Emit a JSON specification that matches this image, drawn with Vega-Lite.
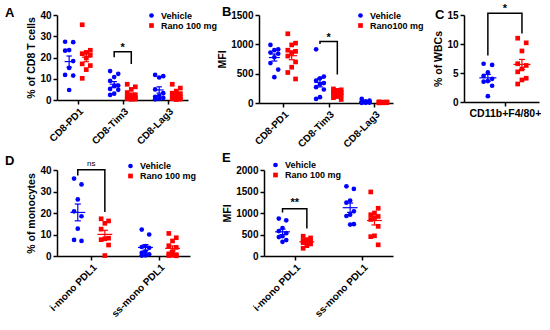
{
"$schema":"https://vega.github.io/schema/vega-lite/v6.json",
"background":"white",
"padding":{"left":5,"top":3,"right":0,"bottom":0},
"spacing":1,
"resolve":{"scale":{"color":"independent","shape":"independent"},"legend":{"color":"independent","shape":"independent"}},
"config":{
 "view":{"stroke":null},
 "font":"Liberation Sans",
 "axis":{"domainColor":"black","domainWidth":1.5,"tickColor":"black","tickWidth":1.5,"tickSize":4,"labelColor":"black","labelFontSize":10,"labelFontWeight":"bold","titleColor":"black","titleFontSize":10.5,"titleFontWeight":"bold","grid":false,"labelPadding":2,"titlePadding":3,"labelFlush":false,"labelOverlap":false},
 "legend":{"labelFontSize":9,"labelFontWeight":"bold","labelColor":"black","symbolSize":22,"rowPadding":0,"labelOffset":5,"padding":0,"title":null,"symbolStrokeWidth":0},
 "title":{"anchor":"start","frame":"group","offset":0,"baseline":"alphabetic","fontSize":13,"fontWeight":"bold","color":"black","font":"Liberation Sans"}
},
"datasets":{
 "A":[
  {"c":"CD8-PD1","g":"Vehicle","v":27.4},{"c":"CD8-PD1","g":"Vehicle","v":27.2},{"c":"CD8-PD1","g":"Vehicle","v":23.5},{"c":"CD8-PD1","g":"Vehicle","v":23.2},{"c":"CD8-PD1","g":"Vehicle","v":18.3},{"c":"CD8-PD1","g":"Vehicle","v":15.1},{"c":"CD8-PD1","g":"Vehicle","v":11.8},{"c":"CD8-PD1","g":"Vehicle","v":11.5},{"c":"CD8-PD1","g":"Vehicle","v":4.7},
  {"c":"CD8-PD1","g":"Rano","v":35.4},{"c":"CD8-PD1","g":"Rano","v":23.4},{"c":"CD8-PD1","g":"Rano","v":22.4},{"c":"CD8-PD1","g":"Rano","v":21.8},{"c":"CD8-PD1","g":"Rano","v":21.1},{"c":"CD8-PD1","g":"Rano","v":19.8},{"c":"CD8-PD1","g":"Rano","v":17.0},{"c":"CD8-PD1","g":"Rano","v":16.2},{"c":"CD8-PD1","g":"Rano","v":14.3},{"c":"CD8-PD1","g":"Rano","v":10.2},
  {"c":"CD8-Tim3","g":"Vehicle","v":13.6},{"c":"CD8-Tim3","g":"Vehicle","v":12.3},{"c":"CD8-Tim3","g":"Vehicle","v":10.8},{"c":"CD8-Tim3","g":"Vehicle","v":9.0},{"c":"CD8-Tim3","g":"Vehicle","v":6.8},{"c":"CD8-Tim3","g":"Vehicle","v":6.5},{"c":"CD8-Tim3","g":"Vehicle","v":5.2},{"c":"CD8-Tim3","g":"Vehicle","v":4.8},{"c":"CD8-Tim3","g":"Vehicle","v":3.0},{"c":"CD8-Tim3","g":"Vehicle","v":2.4},
  {"c":"CD8-Tim3","g":"Rano","v":7.4},{"c":"CD8-Tim3","g":"Rano","v":6.2},{"c":"CD8-Tim3","g":"Rano","v":5.0},{"c":"CD8-Tim3","g":"Rano","v":3.5},{"c":"CD8-Tim3","g":"Rano","v":2.5},{"c":"CD8-Tim3","g":"Rano","v":2.0},{"c":"CD8-Tim3","g":"Rano","v":1.5},{"c":"CD8-Tim3","g":"Rano","v":1.0},{"c":"CD8-Tim3","g":"Rano","v":0.8},{"c":"CD8-Tim3","g":"Rano","v":0.6},{"c":"CD8-Tim3","g":"Rano","v":0.4},{"c":"CD8-Tim3","g":"Rano","v":0.3},
  {"c":"CD8-Lag3","g":"Vehicle","v":11.8},{"c":"CD8-Lag3","g":"Vehicle","v":11.2},{"c":"CD8-Lag3","g":"Vehicle","v":10.6},{"c":"CD8-Lag3","g":"Vehicle","v":5.0},{"c":"CD8-Lag3","g":"Vehicle","v":3.2},{"c":"CD8-Lag3","g":"Vehicle","v":2.0},{"c":"CD8-Lag3","g":"Vehicle","v":1.5},{"c":"CD8-Lag3","g":"Vehicle","v":1.0},{"c":"CD8-Lag3","g":"Vehicle","v":0.6},{"c":"CD8-Lag3","g":"Vehicle","v":0.3},
  {"c":"CD8-Lag3","g":"Rano","v":7.4},{"c":"CD8-Lag3","g":"Rano","v":5.6},{"c":"CD8-Lag3","g":"Rano","v":4.2},{"c":"CD8-Lag3","g":"Rano","v":3.2},{"c":"CD8-Lag3","g":"Rano","v":3.0},{"c":"CD8-Lag3","g":"Rano","v":2.2},{"c":"CD8-Lag3","g":"Rano","v":1.8},{"c":"CD8-Lag3","g":"Rano","v":1.3},{"c":"CD8-Lag3","g":"Rano","v":0.9},{"c":"CD8-Lag3","g":"Rano","v":0.6},{"c":"CD8-Lag3","g":"Rano","v":0.4},{"c":"CD8-Lag3","g":"Rano","v":0.2}
 ],
 "B":[
  {"c":"CD8-PD1","g":"Vehicle","v":990},{"c":"CD8-PD1","g":"Vehicle","v":915},{"c":"CD8-PD1","g":"Vehicle","v":900},{"c":"CD8-PD1","g":"Vehicle","v":860},{"c":"CD8-PD1","g":"Vehicle","v":840},{"c":"CD8-PD1","g":"Vehicle","v":780},{"c":"CD8-PD1","g":"Vehicle","v":680},{"c":"CD8-PD1","g":"Vehicle","v":570},{"c":"CD8-PD1","g":"Vehicle","v":440},
  {"c":"CD8-PD1","g":"Rano","v":1180},{"c":"CD8-PD1","g":"Rano","v":1020},{"c":"CD8-PD1","g":"Rano","v":990},{"c":"CD8-PD1","g":"Rano","v":900},{"c":"CD8-PD1","g":"Rano","v":880},{"c":"CD8-PD1","g":"Rano","v":860},{"c":"CD8-PD1","g":"Rano","v":800},{"c":"CD8-PD1","g":"Rano","v":700},{"c":"CD8-PD1","g":"Rano","v":610},{"c":"CD8-PD1","g":"Rano","v":520},{"c":"CD8-PD1","g":"Rano","v":410},
  {"c":"CD8-Tim3","g":"Vehicle","v":915},{"c":"CD8-Tim3","g":"Vehicle","v":450},{"c":"CD8-Tim3","g":"Vehicle","v":420},{"c":"CD8-Tim3","g":"Vehicle","v":380},{"c":"CD8-Tim3","g":"Vehicle","v":340},{"c":"CD8-Tim3","g":"Vehicle","v":320},{"c":"CD8-Tim3","g":"Vehicle","v":270},{"c":"CD8-Tim3","g":"Vehicle","v":230},{"c":"CD8-Tim3","g":"Vehicle","v":100},{"c":"CD8-Tim3","g":"Vehicle","v":70},
  {"c":"CD8-Tim3","g":"Rano","v":240},{"c":"CD8-Tim3","g":"Rano","v":225},{"c":"CD8-Tim3","g":"Rano","v":215},{"c":"CD8-Tim3","g":"Rano","v":190},{"c":"CD8-Tim3","g":"Rano","v":175},{"c":"CD8-Tim3","g":"Rano","v":160},{"c":"CD8-Tim3","g":"Rano","v":150},{"c":"CD8-Tim3","g":"Rano","v":130},{"c":"CD8-Tim3","g":"Rano","v":110},{"c":"CD8-Tim3","g":"Rano","v":90},{"c":"CD8-Tim3","g":"Rano","v":60},
  {"c":"CD8-Lag3","g":"Vehicle","v":70},{"c":"CD8-Lag3","g":"Vehicle","v":40},{"c":"CD8-Lag3","g":"Vehicle","v":30},{"c":"CD8-Lag3","g":"Vehicle","v":25},{"c":"CD8-Lag3","g":"Vehicle","v":20},{"c":"CD8-Lag3","g":"Vehicle","v":15},{"c":"CD8-Lag3","g":"Vehicle","v":10},{"c":"CD8-Lag3","g":"Vehicle","v":8},{"c":"CD8-Lag3","g":"Vehicle","v":5},{"c":"CD8-Lag3","g":"Vehicle","v":3},
  {"c":"CD8-Lag3","g":"Rano","v":20},{"c":"CD8-Lag3","g":"Rano","v":18},{"c":"CD8-Lag3","g":"Rano","v":15},{"c":"CD8-Lag3","g":"Rano","v":12},{"c":"CD8-Lag3","g":"Rano","v":10},{"c":"CD8-Lag3","g":"Rano","v":8},{"c":"CD8-Lag3","g":"Rano","v":6},{"c":"CD8-Lag3","g":"Rano","v":5},{"c":"CD8-Lag3","g":"Rano","v":3},{"c":"CD8-Lag3","g":"Rano","v":2}
 ],
 "C":[
  {"c":"CD11b+F4/80+","g":"Vehicle","v":6.6},{"c":"CD11b+F4/80+","g":"Vehicle","v":6.4},{"c":"CD11b+F4/80+","g":"Vehicle","v":5.1},{"c":"CD11b+F4/80+","g":"Vehicle","v":4.5},{"c":"CD11b+F4/80+","g":"Vehicle","v":4.0},{"c":"CD11b+F4/80+","g":"Vehicle","v":3.6},{"c":"CD11b+F4/80+","g":"Vehicle","v":3.5},{"c":"CD11b+F4/80+","g":"Vehicle","v":2.8},{"c":"CD11b+F4/80+","g":"Vehicle","v":1.0},
  {"c":"CD11b+F4/80+","g":"Rano","v":11.0},{"c":"CD11b+F4/80+","g":"Rano","v":10.2},{"c":"CD11b+F4/80+","g":"Rano","v":8.8},{"c":"CD11b+F4/80+","g":"Rano","v":6.6},{"c":"CD11b+F4/80+","g":"Rano","v":6.3},{"c":"CD11b+F4/80+","g":"Rano","v":5.7},{"c":"CD11b+F4/80+","g":"Rano","v":5.2},{"c":"CD11b+F4/80+","g":"Rano","v":4.1},{"c":"CD11b+F4/80+","g":"Rano","v":3.8},{"c":"CD11b+F4/80+","g":"Rano","v":3.1}
 ],
 "D":[
  {"c":"i-mono PDL1","g":"Vehicle","v":36.0},{"c":"i-mono PDL1","g":"Vehicle","v":33.3},{"c":"i-mono PDL1","g":"Vehicle","v":26.3},{"c":"i-mono PDL1","g":"Vehicle","v":20.8},{"c":"i-mono PDL1","g":"Vehicle","v":18.5},{"c":"i-mono PDL1","g":"Vehicle","v":12.7},{"c":"i-mono PDL1","g":"Vehicle","v":7.5},{"c":"i-mono PDL1","g":"Vehicle","v":7.0},
  {"c":"i-mono PDL1","g":"Rano","v":17.3},{"c":"i-mono PDL1","g":"Rano","v":16.3},{"c":"i-mono PDL1","g":"Rano","v":15.2},{"c":"i-mono PDL1","g":"Rano","v":12.5},{"c":"i-mono PDL1","g":"Rano","v":8.3},{"c":"i-mono PDL1","g":"Rano","v":8.0},{"c":"i-mono PDL1","g":"Rano","v":7.6},{"c":"i-mono PDL1","g":"Rano","v":5.1},{"c":"i-mono PDL1","g":"Rano","v":0.2},
  {"c":"ss-mono PDL1","g":"Vehicle","v":12.3},{"c":"ss-mono PDL1","g":"Vehicle","v":10.0},{"c":"ss-mono PDL1","g":"Vehicle","v":4.6},{"c":"ss-mono PDL1","g":"Vehicle","v":4.2},{"c":"ss-mono PDL1","g":"Vehicle","v":3.8},{"c":"ss-mono PDL1","g":"Vehicle","v":2.0},{"c":"ss-mono PDL1","g":"Vehicle","v":1.5},{"c":"ss-mono PDL1","g":"Vehicle","v":0.8},{"c":"ss-mono PDL1","g":"Vehicle","v":0.3},{"c":"ss-mono PDL1","g":"Vehicle","v":0.2},
  {"c":"ss-mono PDL1","g":"Rano","v":10.5},{"c":"ss-mono PDL1","g":"Rano","v":8.5},{"c":"ss-mono PDL1","g":"Rano","v":7.0},{"c":"ss-mono PDL1","g":"Rano","v":4.8},{"c":"ss-mono PDL1","g":"Rano","v":4.0},{"c":"ss-mono PDL1","g":"Rano","v":2.0},{"c":"ss-mono PDL1","g":"Rano","v":1.0},{"c":"ss-mono PDL1","g":"Rano","v":0.6},{"c":"ss-mono PDL1","g":"Rano","v":0.4},{"c":"ss-mono PDL1","g":"Rano","v":0.2},{"c":"ss-mono PDL1","g":"Rano","v":0.1}
 ],
 "E":[
  {"c":"i-mono PDL1","g":"Vehicle","v":870},{"c":"i-mono PDL1","g":"Vehicle","v":830},{"c":"i-mono PDL1","g":"Vehicle","v":650},{"c":"i-mono PDL1","g":"Vehicle","v":580},{"c":"i-mono PDL1","g":"Vehicle","v":530},{"c":"i-mono PDL1","g":"Vehicle","v":460},{"c":"i-mono PDL1","g":"Vehicle","v":440},{"c":"i-mono PDL1","g":"Vehicle","v":370},{"c":"i-mono PDL1","g":"Vehicle","v":330},
  {"c":"i-mono PDL1","g":"Rano","v":460},{"c":"i-mono PDL1","g":"Rano","v":420},{"c":"i-mono PDL1","g":"Rano","v":380},{"c":"i-mono PDL1","g":"Rano","v":360},{"c":"i-mono PDL1","g":"Rano","v":350},{"c":"i-mono PDL1","g":"Rano","v":330},{"c":"i-mono PDL1","g":"Rano","v":310},{"c":"i-mono PDL1","g":"Rano","v":280},{"c":"i-mono PDL1","g":"Rano","v":240},{"c":"i-mono PDL1","g":"Rano","v":180},
  {"c":"ss-mono PDL1","g":"Vehicle","v":1620},{"c":"ss-mono PDL1","g":"Vehicle","v":1560},{"c":"ss-mono PDL1","g":"Vehicle","v":1290},{"c":"ss-mono PDL1","g":"Vehicle","v":1240},{"c":"ss-mono PDL1","g":"Vehicle","v":1040},{"c":"ss-mono PDL1","g":"Vehicle","v":960},{"c":"ss-mono PDL1","g":"Vehicle","v":930},{"c":"ss-mono PDL1","g":"Vehicle","v":740},{"c":"ss-mono PDL1","g":"Vehicle","v":730},
  {"c":"ss-mono PDL1","g":"Rano","v":1490},{"c":"ss-mono PDL1","g":"Rano","v":1110},{"c":"ss-mono PDL1","g":"Rano","v":1000},{"c":"ss-mono PDL1","g":"Rano","v":960},{"c":"ss-mono PDL1","g":"Rano","v":920},{"c":"ss-mono PDL1","g":"Rano","v":880},{"c":"ss-mono PDL1","g":"Rano","v":850},{"c":"ss-mono PDL1","g":"Rano","v":690},{"c":"ss-mono PDL1","g":"Rano","v":470},{"c":"ss-mono PDL1","g":"Rano","v":450},{"c":"ss-mono PDL1","g":"Rano","v":260}
 ],
 "br":[
  {"p":"A","c":"CD8-Tim3","k":0,"s":"Vehicle","v":20.1},{"p":"A","c":"CD8-Tim3","k":1,"s":"Vehicle","v":22.7},{"p":"A","c":"CD8-Tim3","k":2,"s":"Rano","v":22.7},{"p":"A","c":"CD8-Tim3","k":3,"s":"Rano","v":16.9},
  {"p":"B","c":"CD8-Tim3","k":0,"s":"Vehicle","v":1004},{"p":"B","c":"CD8-Tim3","k":1,"s":"Vehicle","v":1050},{"p":"B","c":"CD8-Tim3","k":2,"s":"Rano","v":1050},{"p":"B","c":"CD8-Tim3","k":3,"s":"Rano","v":484},
  {"p":"C","c":"CD11b+F4/80+","k":0,"s":"Vehicle","v":8.0},{"p":"C","c":"CD11b+F4/80+","k":1,"s":"Vehicle","v":15.3},{"p":"C","c":"CD11b+F4/80+","k":2,"s":"Rano","v":15.3},{"p":"C","c":"CD11b+F4/80+","k":3,"s":"Rano","v":11.8},
  {"p":"D","c":"i-mono PDL1","k":0,"s":"Vehicle","v":37.5},{"p":"D","c":"i-mono PDL1","k":1,"s":"Vehicle","v":40.1},{"p":"D","c":"i-mono PDL1","k":2,"s":"Rano","v":40.1},{"p":"D","c":"i-mono PDL1","k":3,"s":"Rano","v":20.5},
  {"p":"E","c":"i-mono PDL1","k":0,"s":"Vehicle","v":1010},{"p":"E","c":"i-mono PDL1","k":1,"s":"Vehicle","v":1098},{"p":"E","c":"i-mono PDL1","k":2,"s":"Rano","v":1098},{"p":"E","c":"i-mono PDL1","k":3,"s":"Rano","v":640}
 ],
 "sig":[
  {"p":"A","c":"CD8-Tim3","t":"*","v":23.2},
  {"p":"B","c":"CD8-Tim3","t":"*","v":1060},
  {"p":"C","c":"CD11b+F4/80+","t":"*","v":15.45},
  {"p":"D","c":"i-mono PDL1","t":"ns","v":42.0},
  {"p":"E","c":"i-mono PDL1","t":"**","v":1170}
 ]
},
"vconcat":[
 {"hconcat":[
  {"width":131,"height":85,
   "title":{"text":"A","dx":-52,"dy":14},
   "encoding":{
    "x":{"field":"x","type":"quantitative","scale":{"domain":[-0.46,2.45],"nice":false,"zero":false},"axis":{"values":[0,1,2],"labelExpr":"['CD8-PD1','CD8-Tim3','CD8-Lag3'][datum.value]","labelAngle":-45,"title":null}},
    "y":{"field":"v","type":"quantitative","scale":{"domain":[0,40],"nice":false},"axis":{"values":[0,10,20,30,40],"format":"d","title":"% of CD8 T cells"}}
   },
   "layer":[
    {"data":{"name":"A"},
     "transform":[{"window":[{"op":"row_number","as":"r"}],"groupby":["c","g"],"sort":[{"field":"v","order":"descending"}]},
      {"calculate":"indexof(['CD8-PD1','CD8-Tim3','CD8-Lag3'],datum.c)+(datum.g=='Vehicle'?-0.19:0.19)+0.09*[-1,1,0][(datum.r-1)%3]","as":"x"}],
     "mark":{"type":"point","filled":true,"size":22,"opacity":1,"strokeWidth":0},
     "encoding":{
      "color":{"field":"g","type":"nominal","scale":{"domain":["Vehicle","Rano"],"range":["#0000ff","#ff0000"]},"legend":{"orient":"none","legendX":90,"legendY":-4,"labelExpr":"datum.label=='Rano'?'Rano 100 mg':'Vehicle'"}},
      "shape":{"field":"g","type":"nominal","scale":{"domain":["Vehicle","Rano"],"range":["circle","square"]},"legend":{"orient":"none","legendX":90,"legendY":-4,"labelExpr":"datum.label=='Rano'?'Rano 100 mg':'Vehicle'"}}}},
    {"data":{"name":"A"},
     "transform":[{"aggregate":[{"op":"mean","field":"v","as":"m"},{"op":"stderr","field":"v","as":"se"}],"groupby":["c","g"]},
      {"calculate":"indexof(['CD8-PD1','CD8-Tim3','CD8-Lag3'],datum.c)+(datum.g=='Vehicle'?-0.19:0.19)","as":"xc"},
      {"calculate":"[[datum.xc-0.1,datum.xc+0.1,datum.m,datum.m],[datum.xc,datum.xc,datum.m-datum.se,datum.m+datum.se],[datum.xc-0.06,datum.xc+0.06,datum.m-datum.se,datum.m-datum.se],[datum.xc-0.06,datum.xc+0.06,datum.m+datum.se,datum.m+datum.se]]","as":"s"},
      {"flatten":["s"]},
      {"calculate":"datum.s[0]","as":"x"},{"calculate":"datum.s[1]","as":"x2"},{"calculate":"datum.s[2]","as":"v"},{"calculate":"datum.s[3]","as":"v2"}],
     "mark":{"type":"rule","strokeWidth":1.2},
     "encoding":{"x2":{"field":"x2"},"y2":{"field":"v2"},"color":{"field":"g","type":"nominal","legend":null}}},
    {"data":{"name":"br"},
     "transform":[{"filter":"datum.p=='A'"},{"calculate":"indexof(['CD8-PD1','CD8-Tim3','CD8-Lag3'],datum.c)+(datum.s=='Vehicle'?-0.19:0.19)","as":"x"}],
     "mark":{"type":"line","color":"black","strokeWidth":1.5},
     "encoding":{"order":{"field":"k","type":"quantitative"}}},
    {"data":{"name":"sig"},
     "transform":[{"filter":"datum.p=='A'"},{"calculate":"indexof(['CD8-PD1','CD8-Tim3','CD8-Lag3'],datum.c)","as":"x"}],
     "mark":{"type":"text","fontSize":11,"fontWeight":"bold","baseline":"alphabetic","color":"black"},
     "encoding":{"text":{"field":"t"}}}
   ]},
  {"width":134,"height":88,
   "title":{"text":"B","dx":-37,"dy":13},
   "encoding":{
    "x":{"field":"x","type":"quantitative","scale":{"domain":[-0.526,2.41],"nice":false,"zero":false},"axis":{"values":[0,1,2],"labelExpr":"['CD8-PD1','CD8-Tim3','CD8-Lag3'][datum.value]","labelAngle":-45,"title":null}},
    "y":{"field":"v","type":"quantitative","scale":{"domain":[0,1500],"nice":false},"axis":{"values":[0,500,1000,1500],"format":"d","title":"MFI"}}
   },
   "layer":[
    {"data":{"name":"B"},
     "transform":[{"window":[{"op":"row_number","as":"r"}],"groupby":["c","g"],"sort":[{"field":"v","order":"descending"}]},
      {"calculate":"indexof(['CD8-PD1','CD8-Tim3','CD8-Lag3'],datum.c)+(datum.g=='Vehicle'?-0.19:0.19)+0.085*[-1,1,0][(datum.r-1)%3]","as":"x"}],
     "mark":{"type":"point","filled":true,"size":22,"opacity":1,"strokeWidth":0},
     "encoding":{
      "color":{"field":"g","type":"nominal","scale":{"domain":["Vehicle","Rano"],"range":["#0000ff","#ff0000"]},"legend":{"orient":"none","legendX":97,"legendY":-4,"labelExpr":"datum.label=='Rano'?'Rano100 mg':'Vehicle'"}},
      "shape":{"field":"g","type":"nominal","scale":{"domain":["Vehicle","Rano"],"range":["circle","square"]},"legend":{"orient":"none","legendX":97,"legendY":-4,"labelExpr":"datum.label=='Rano'?'Rano100 mg':'Vehicle'"}}}},
    {"data":{"name":"B"},
     "transform":[{"aggregate":[{"op":"mean","field":"v","as":"m"},{"op":"stderr","field":"v","as":"se"}],"groupby":["c","g"]},
      {"calculate":"indexof(['CD8-PD1','CD8-Tim3','CD8-Lag3'],datum.c)+(datum.g=='Vehicle'?-0.19:0.19)","as":"xc"},
      {"calculate":"[[datum.xc-0.12,datum.xc+0.12,datum.m,datum.m],[datum.xc,datum.xc,datum.m-datum.se,datum.m+datum.se],[datum.xc-0.065,datum.xc+0.065,datum.m-datum.se,datum.m-datum.se],[datum.xc-0.065,datum.xc+0.065,datum.m+datum.se,datum.m+datum.se]]","as":"s"},
      {"flatten":["s"]},
      {"calculate":"datum.s[0]","as":"x"},{"calculate":"datum.s[1]","as":"x2"},{"calculate":"datum.s[2]","as":"v"},{"calculate":"datum.s[3]","as":"v2"}],
     "mark":{"type":"rule","strokeWidth":1.2},
     "encoding":{"x2":{"field":"x2"},"y2":{"field":"v2"},"color":{"field":"g","type":"nominal","legend":null}}},
    {"data":{"name":"br"},
     "transform":[{"filter":"datum.p=='B'"},{"calculate":"indexof(['CD8-PD1','CD8-Tim3','CD8-Lag3'],datum.c)+(datum.s=='Vehicle'?-0.19:0.19)","as":"x"}],
     "mark":{"type":"line","color":"black","strokeWidth":1.5},
     "encoding":{"order":{"field":"k","type":"quantitative"}}},
    {"data":{"name":"sig"},
     "transform":[{"filter":"datum.p=='B'"},{"calculate":"indexof(['CD8-PD1','CD8-Tim3','CD8-Lag3'],datum.c)","as":"x"}],
     "mark":{"type":"text","fontSize":11,"fontWeight":"bold","baseline":"alphabetic","color":"black"},
     "encoding":{"text":{"field":"t"}}}
   ]},
  {"width":75,"height":87,
   "title":{"text":"C","dx":-29,"dy":23},
   "encoding":{
    "x":{"field":"x","type":"quantitative","scale":{"domain":[-0.48,0.4],"nice":false,"zero":false},"axis":{"values":[0],"labelExpr":"'CD11b+F4/80+'","labelAngle":0,"labelFontSize":10.5,"title":null}},
    "y":{"field":"v","type":"quantitative","scale":{"domain":[0,15],"nice":false},"axis":{"values":[0,5,10,15],"format":"d","title":"% of WBCs"}}
   },
   "layer":[
    {"data":{"name":"C"},
     "transform":[{"window":[{"op":"row_number","as":"r"}],"groupby":["c","g"],"sort":[{"field":"v","order":"descending"}]},
      {"calculate":"(datum.g=='Vehicle'?-0.2:0.2)+0.05*[-1,1,0][(datum.r-1)%3]","as":"x"}],
     "mark":{"type":"point","filled":true,"size":22,"opacity":1,"strokeWidth":0},
     "encoding":{
      "color":{"field":"g","type":"nominal","scale":{"domain":["Vehicle","Rano"],"range":["#0000ff","#ff0000"]},"legend":null},
      "shape":{"field":"g","type":"nominal","scale":{"domain":["Vehicle","Rano"],"range":["circle","square"]},"legend":null}}},
    {"data":{"name":"C"},
     "transform":[{"aggregate":[{"op":"mean","field":"v","as":"m"},{"op":"stderr","field":"v","as":"se"}],"groupby":["c","g"]},
      {"calculate":"(datum.g=='Vehicle'?-0.2:0.2)","as":"xc"},
      {"calculate":"[[datum.xc-0.1,datum.xc+0.1,datum.m,datum.m],[datum.xc,datum.xc,datum.m-datum.se,datum.m+datum.se],[datum.xc-0.035,datum.xc+0.035,datum.m-datum.se,datum.m-datum.se],[datum.xc-0.035,datum.xc+0.035,datum.m+datum.se,datum.m+datum.se]]","as":"s"},
      {"flatten":["s"]},
      {"calculate":"datum.s[0]","as":"x"},{"calculate":"datum.s[1]","as":"x2"},{"calculate":"datum.s[2]","as":"v"},{"calculate":"datum.s[3]","as":"v2"}],
     "mark":{"type":"rule","strokeWidth":1.2},
     "encoding":{"x2":{"field":"x2"},"y2":{"field":"v2"},"color":{"field":"g","type":"nominal","legend":null}}},
    {"data":{"name":"br"},
     "transform":[{"filter":"datum.p=='C'"},{"calculate":"(datum.s=='Vehicle'?-0.2:0.2)","as":"x"}],
     "mark":{"type":"line","color":"black","strokeWidth":1.5},
     "encoding":{"order":{"field":"k","type":"quantitative"}}},
    {"data":{"name":"sig"},
     "transform":[{"filter":"datum.p=='C'"},{"calculate":"0","as":"x"}],
     "mark":{"type":"text","fontSize":11,"fontWeight":"bold","baseline":"alphabetic","color":"black"},
     "encoding":{"text":{"field":"t"}}}
   ]}
 ],"spacing":71,"bounds":"flush","resolve":{"scale":{"color":"independent","shape":"independent"},"legend":{"color":"independent","shape":"independent"}}},
 {"hconcat":[
  {"width":133,"height":86,
   "title":{"text":"D","dx":-52,"dy":12.5},
   "encoding":{
    "x":{"field":"x","type":"quantitative","scale":{"domain":[-0.507,1.458],"nice":false,"zero":false},"axis":{"values":[0,1],"labelExpr":"['i-mono PDL1','ss-mono PDL1'][datum.value]","labelAngle":-45,"title":null}},
    "y":{"field":"v","type":"quantitative","scale":{"domain":[0,40],"nice":false},"axis":{"values":[0,10,20,30,40],"format":"d","title":"% of monocytes"}}
   },
   "layer":[
    {"data":{"name":"D"},
     "transform":[{"window":[{"op":"row_number","as":"r"}],"groupby":["c","g"],"sort":[{"field":"v","order":"descending"}]},
      {"calculate":"indexof(['i-mono PDL1','ss-mono PDL1'],datum.c)+(datum.g=='Vehicle'?-0.2:0.2)+0.055*[-1,1,0][(datum.r-1)%3]","as":"x"}],
     "mark":{"type":"point","filled":true,"size":22,"opacity":1,"strokeWidth":0},
     "encoding":{
      "color":{"field":"g","type":"nominal","scale":{"domain":["Vehicle","Rano"],"range":["#0000ff","#ff0000"]},"legend":{"orient":"none","legendX":69,"legendY":-8.5,"labelExpr":"datum.label=='Rano'?'Rano 100 mg':'Vehicle'"}},
      "shape":{"field":"g","type":"nominal","scale":{"domain":["Vehicle","Rano"],"range":["circle","square"]},"legend":{"orient":"none","legendX":69,"legendY":-8.5,"labelExpr":"datum.label=='Rano'?'Rano 100 mg':'Vehicle'"}}}},
    {"data":{"name":"D"},
     "transform":[{"aggregate":[{"op":"mean","field":"v","as":"m"},{"op":"stderr","field":"v","as":"se"}],"groupby":["c","g"]},
      {"calculate":"indexof(['i-mono PDL1','ss-mono PDL1'],datum.c)+(datum.g=='Vehicle'?-0.2:0.2)","as":"xc"},
      {"calculate":"[[datum.xc-0.11,datum.xc+0.11,datum.m,datum.m],[datum.xc,datum.xc,datum.m-datum.se,datum.m+datum.se],[datum.xc-0.045,datum.xc+0.045,datum.m-datum.se,datum.m-datum.se],[datum.xc-0.045,datum.xc+0.045,datum.m+datum.se,datum.m+datum.se]]","as":"s"},
      {"flatten":["s"]},
      {"calculate":"datum.s[0]","as":"x"},{"calculate":"datum.s[1]","as":"x2"},{"calculate":"datum.s[2]","as":"v"},{"calculate":"datum.s[3]","as":"v2"}],
     "mark":{"type":"rule","strokeWidth":1.2},
     "encoding":{"x2":{"field":"x2"},"y2":{"field":"v2"},"color":{"field":"g","type":"nominal","legend":null}}},
    {"data":{"name":"br"},
     "transform":[{"filter":"datum.p=='D'"},{"calculate":"indexof(['i-mono PDL1','ss-mono PDL1'],datum.c)+(datum.s=='Vehicle'?-0.2:0.2)","as":"x"}],
     "mark":{"type":"line","color":"black","strokeWidth":1.5},
     "encoding":{"order":{"field":"k","type":"quantitative"}}},
    {"data":{"name":"sig"},
     "transform":[{"filter":"datum.p=='D'"},{"calculate":"indexof(['i-mono PDL1','ss-mono PDL1'],datum.c)","as":"x"}],
     "mark":{"type":"text","fontSize":8,"fontWeight":"normal","baseline":"alphabetic","color":"black"},
     "encoding":{"text":{"field":"t"}}}
   ]},
  {"width":129,"height":86,
   "title":{"text":"E","dx":-42,"dy":8},
   "encoding":{
    "x":{"field":"x","type":"quantitative","scale":{"domain":[-0.454,1.454],"nice":false,"zero":false},"axis":{"values":[0,1],"labelExpr":"['i-mono PDL1','ss-mono PDL1'][datum.value]","labelAngle":-45,"title":null}},
    "y":{"field":"v","type":"quantitative","scale":{"domain":[0,2000],"nice":false},"axis":{"values":[0,500,1000,1500,2000],"format":"d","title":"MFI"}}
   },
   "layer":[
    {"data":{"name":"E"},
     "transform":[{"window":[{"op":"row_number","as":"r"}],"groupby":["c","g"],"sort":[{"field":"v","order":"descending"}]},
      {"calculate":"indexof(['i-mono PDL1','ss-mono PDL1'],datum.c)+(datum.g=='Vehicle'?-0.18:0.18)+0.055*[-1,1,0][(datum.r-1)%3]","as":"x"}],
     "mark":{"type":"point","filled":true,"size":22,"opacity":1,"strokeWidth":0},
     "encoding":{
      "color":{"field":"g","type":"nominal","scale":{"domain":["Vehicle","Rano"],"range":["#0000ff","#ff0000"]},"legend":{"orient":"none","legendX":7,"legendY":-9.5,"labelExpr":"datum.label=='Rano'?'Rano 100 mg':'Vehicle'"}},
      "shape":{"field":"g","type":"nominal","scale":{"domain":["Vehicle","Rano"],"range":["circle","square"]},"legend":{"orient":"none","legendX":7,"legendY":-9.5,"labelExpr":"datum.label=='Rano'?'Rano 100 mg':'Vehicle'"}}}},
    {"data":{"name":"E"},
     "transform":[{"aggregate":[{"op":"mean","field":"v","as":"m"},{"op":"stderr","field":"v","as":"se"}],"groupby":["c","g"]},
      {"calculate":"indexof(['i-mono PDL1','ss-mono PDL1'],datum.c)+(datum.g=='Vehicle'?-0.18:0.18)","as":"xc"},
      {"calculate":"[[datum.xc-0.11,datum.xc+0.11,datum.m,datum.m],[datum.xc,datum.xc,datum.m-datum.se,datum.m+datum.se],[datum.xc-0.045,datum.xc+0.045,datum.m-datum.se,datum.m-datum.se],[datum.xc-0.045,datum.xc+0.045,datum.m+datum.se,datum.m+datum.se]]","as":"s"},
      {"flatten":["s"]},
      {"calculate":"datum.s[0]","as":"x"},{"calculate":"datum.s[1]","as":"x2"},{"calculate":"datum.s[2]","as":"v"},{"calculate":"datum.s[3]","as":"v2"}],
     "mark":{"type":"rule","strokeWidth":1.2},
     "encoding":{"x2":{"field":"x2"},"y2":{"field":"v2"},"color":{"field":"g","type":"nominal","legend":null}}},
    {"data":{"name":"br"},
     "transform":[{"filter":"datum.p=='E'"},{"calculate":"indexof(['i-mono PDL1','ss-mono PDL1'],datum.c)+(datum.s=='Vehicle'?-0.18:0.18)","as":"x"}],
     "mark":{"type":"line","color":"black","strokeWidth":1.5},
     "encoding":{"order":{"field":"k","type":"quantitative"}}},
    {"data":{"name":"sig"},
     "transform":[{"filter":"datum.p=='E'"},{"calculate":"indexof(['i-mono PDL1','ss-mono PDL1'],datum.c)","as":"x"}],
     "mark":{"type":"text","fontSize":11,"fontWeight":"bold","baseline":"alphabetic","color":"black"},
     "encoding":{"text":{"field":"t"}}}
   ]}
 ],"spacing":74,"bounds":"flush","resolve":{"scale":{"color":"independent","shape":"independent"},"legend":{"color":"independent","shape":"independent"}}}
]
}
